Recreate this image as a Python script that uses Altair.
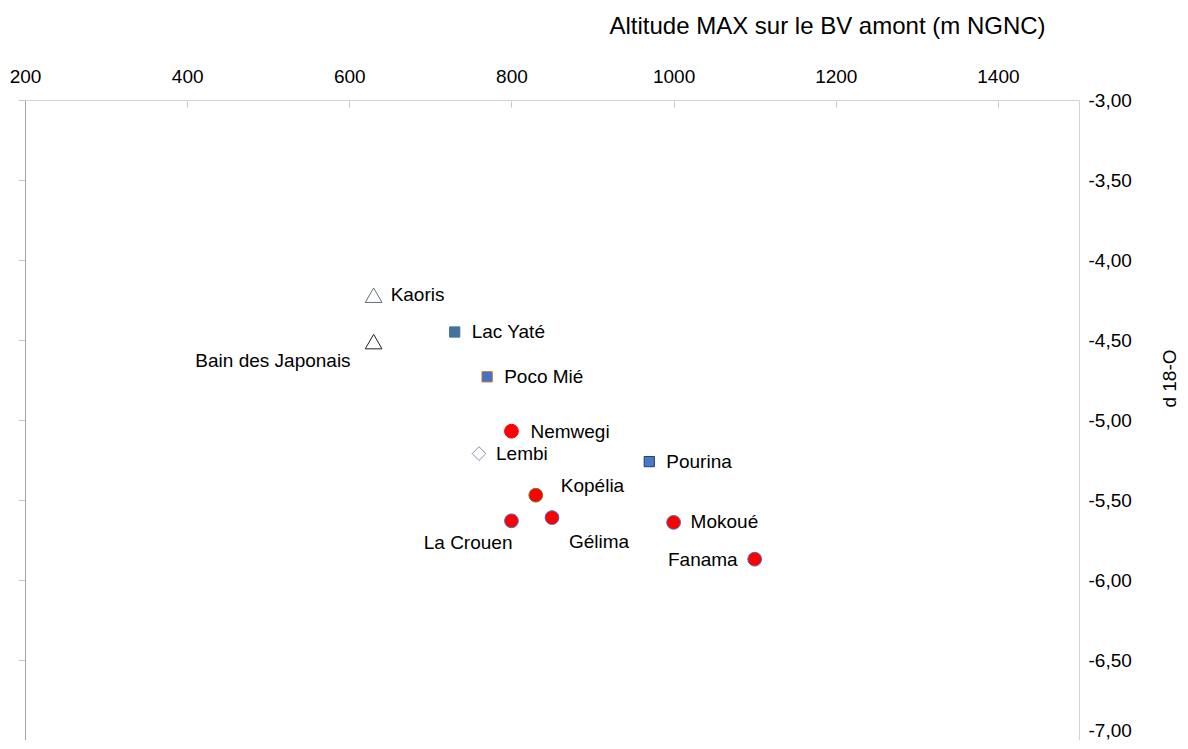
import altair as alt
import pandas as pd

# ---- data ----
names = ["Kaoris", "Bain des Japonais", "Lac Yaté", "Poco Mié", "Nemwegi", "Lembi",
         "Pourina", "Kopélia", "La Crouen", "Gélima", "Mokoué", "Fanama"]
altitude = [630, 630, 730, 770, 800, 760, 970, 830, 800, 850, 1000, 1100]
d18o = [-4.22, -4.51, -4.45, -4.73, -5.07, -5.21, -5.26, -5.47, -5.63, -5.61, -5.64, -5.87]

x_ticks = [200, 400, 600, 800, 1000, 1200, 1400]
y_ticks = [-7.0, -6.5, -6.0, -5.5, -5.0, -4.5, -4.0, -3.5, -3.0]

df = pd.DataFrame({"site": names, "alt": altitude, "d18o": d18o})

# ---- marker styles (per series) ----
fills = ["#ffffff", "#ffffff", "#44729d", "#4472c4", "#ff0000", "#ffffff",
         "#4a78c8", "#ff0000", "#ff0000", "#ff0000", "#ff0000", "#ff0000"]
strokes = ["#5f6f87", "#222222", "#44729d", "#c0703f", "#ff0000", "#8090b0",
           "#1f3f6f", "#6b7b2b", "#4a6fbf", "#4a6fbf", "#4a6fbf", "#4a6fbf"]

FONT = "Liberation Sans"

x_enc = alt.X(
    "alt:Q",
    scale=alt.Scale(domain=[200, 1500], nice=False, zero=False),
    axis=alt.Axis(
        orient="top", values=x_ticks, format="d", offset=-7,
        domain=False, grid=False, tickSize=6, tickColor="#c8c8c8",
        labelFlush=False, labelOverlap=False,
        labelPadding=15, labelFont=FONT, labelFontSize=19, labelColor="#000000",
        title="Altitude MAX sur le BV amont (m NGNC)", titleFont=FONT,
        titleFontSize=24, titleFontWeight="normal", titleColor="#000000",
        titleX=802, titleY=-81, titleAlign="center", titleBaseline="middle",
    ),
)

y_scale = alt.Scale(domain=[-7, -3], nice=False, zero=False)

y_left = alt.Y(
    "d18o:Q", scale=y_scale,
    axis=alt.Axis(orient="left", values=y_ticks, labels=False, title=None,
                  grid=False, domainColor="#a6a6a6", tickColor="#c8c8c8", tickSize=7),
)

y_right = alt.Y(
    "d18o:Q", scale=y_scale,
    axis=alt.Axis(
        orient="right", values=y_ticks,
        labelExpr="replace(replace(format(datum.value, '.2f'), '.', ','), '\u2212', '-')",
        labelBaseline={"condition": {"test": "datum.value <= -7", "value": "bottom"},
                       "value": "middle"},
        labelFlush=False, labelOverlap=False,
        domain=False, ticks=False, tickSize=0, grid=False, labelPadding=9,
        labelFont=FONT, labelFontSize=19, labelColor="#000000",
        title="d 18-O", titleFont=FONT, titleFontSize=19, titleFontWeight="normal",
        titleColor="#000000", titleAngle=270, titleX=90, titleY=278,
        titleAlign="center", titleBaseline="middle",
    ),
)

fill_enc = alt.Fill("site:N", scale=alt.Scale(domain=names, range=fills), legend=None)
stroke_enc = alt.Stroke("site:N", scale=alt.Scale(domain=names, range=strokes), legend=None)


def markers(sites, shape, size):
    return alt.Chart(df).transform_filter(
        alt.FieldOneOfPredicate(field="site", oneOf=sites)
    ).mark_point(shape=shape, size=size, filled=False, strokeWidth=1, opacity=1).encode(
        x=x_enc, y=y_left, fill=fill_enc, stroke=stroke_enc,
    )


points = alt.layer(
    markers(["Kaoris", "Bain des Japonais"], "triangle-up", 280),
    markers(["Lac Yaté", "Poco Mié", "Pourina"], "square", 105),
    markers(["Lembi"], "diamond", 190),
    markers(["Nemwegi", "Kopélia", "La Crouen", "Gélima", "Mokoué", "Fanama"], "circle", 190),
)


def labels(sites, align, dx, dy):
    return alt.Chart(df).transform_filter(
        alt.FieldOneOfPredicate(field="site", oneOf=sites)
    ).mark_text(
        align=align, baseline="middle", dx=dx, dy=dy,
        font=FONT, fontSize=19, color="#000000",
    ).encode(x=x_enc, y=y_right, text="site:N")


text_layer = alt.layer(
    labels(["Kaoris", "Lac Yaté", "Poco Mié", "Lembi", "Pourina", "Mokoué"], "left", 17, 0),
    labels(["Nemwegi"], "left", 19, 1),
    labels(["Kopélia"], "left", 25, -9),
    labels(["Gélima"], "left", 17, 24),
    labels(["La Crouen"], "right", 1, 22),
    labels(["Fanama"], "right", -17, 1),
    labels(["Bain des Japonais"], "right", -23, 19),
)

chart = alt.layer(points, text_layer).resolve_axis(y="independent").properties(
    width=1054,
    height=640,
    autosize=alt.AutoSizeParams(type="none"),
    padding={"left": 17, "top": 92, "right": 101, "bottom": 0},
    background="#ffffff",
).configure_view(stroke="#d4d4d4", strokeWidth=1)

chart.save("out.html", embed_options={"renderer": "svg", "actions": False})
